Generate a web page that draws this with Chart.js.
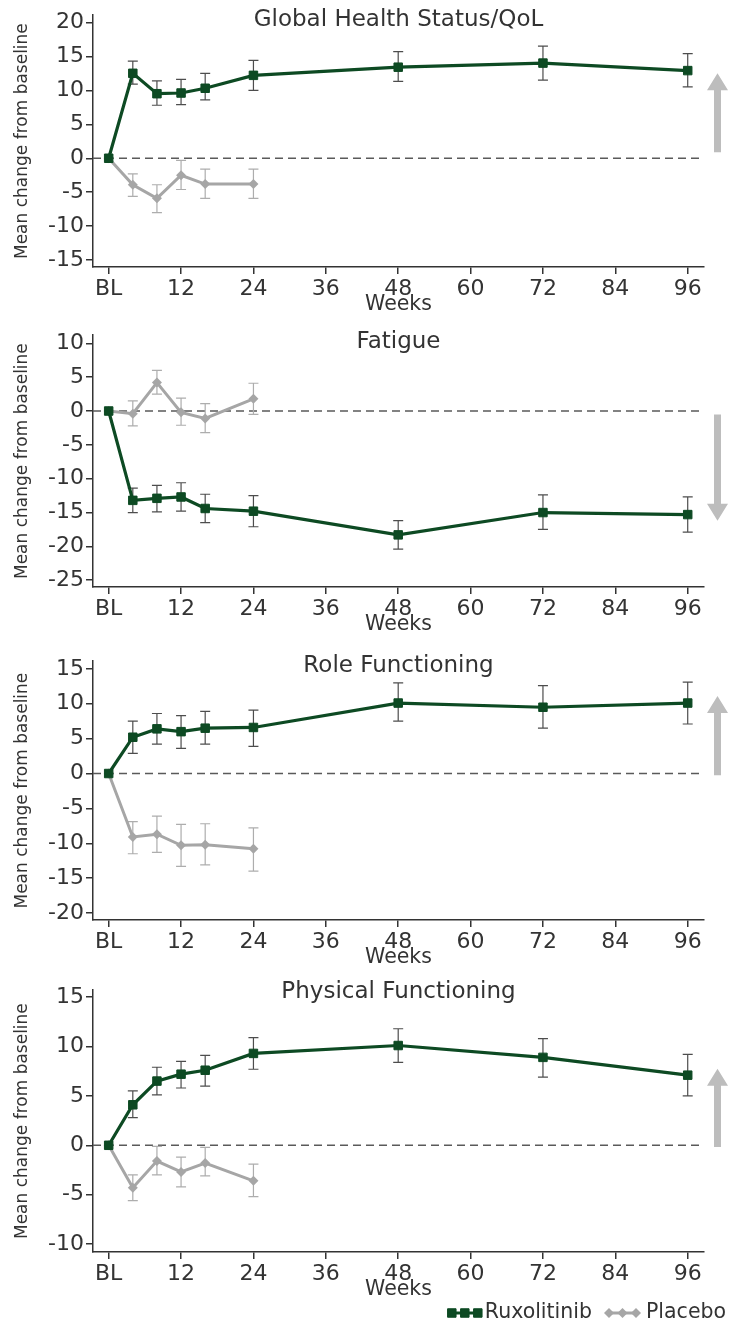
<!DOCTYPE html>
<html>
<head>
<meta charset="utf-8">
<title>Mean change from baseline</title>
<script src="https://cdn.jsdelivr.net/npm/chart.js@4.4.1/dist/chart.umd.min.js"></script>
<style>
    html, body { margin: 0; padding: 0; background: #ffffff; }
    #wrap { position: relative; width: 729px; height: 1325px; overflow: hidden; }
    #wrap canvas { position: absolute; left: 0; }
</style>
</head>
<body>
<div id="wrap">
    <canvas id="chart_ghs" width="729" height="317" style="top:0px"></canvas>
    <canvas id="chart_fatigue" width="729" height="317" style="top:320px"></canvas>
    <canvas id="chart_role" width="729" height="324" style="top:646px"></canvas>
    <canvas id="chart_phys" width="729" height="349" style="top:975px"></canvas>
</div>
<script>
// ---- data ----
var weeksRux = [0, 4, 8, 12, 16, 24, 48, 72, 96];
var weeksPbo = [0, 4, 8, 12, 16, 24];
var xTicks = [0, 12, 24, 36, 48, 60, 72, 84, 96];
var xTickLabels = ['BL', '12', '24', '36', '48', '60', '72', '84', '96'];

var panelTitles = ['Global Health Status/QoL', 'Fatigue', 'Role Functioning', 'Physical Functioning'];

// Global Health Status/QoL
var ghsRux = [0, 12.5, 9.5, 9.6, 10.3, 12.2, 13.4, 14.0, 12.9];
var ghsRuxLo = [null, 10.9, 7.8, 7.9, 8.6, 10.0, 11.3, 11.5, 10.5];
var ghsRuxHi = [null, 14.3, 11.4, 11.6, 12.5, 14.4, 15.7, 16.5, 15.4];
var ghsPbo = [0, -3.9, -5.9, -2.5, -3.8, -3.8];
var ghsPboLo = [null, -5.6, -8.0, -4.6, -5.9, -5.9];
var ghsPboHi = [null, -2.3, -3.9, -0.3, -1.6, -1.6];
var ghsYTicks = [-15, -10, -5, 0, 5, 10, 15, 20];

// Fatigue
var fatRux = [0, -13.2, -12.9, -12.7, -14.4, -14.8, -18.3, -15.0, -15.3];
var fatRuxLo = [null, -15.0, -14.9, -14.8, -16.5, -17.1, -20.4, -17.5, -17.9];
var fatRuxHi = [null, -11.4, -11.0, -10.6, -12.3, -12.5, -16.2, -12.4, -12.7];
var fatPbo = [0, -0.4, 4.2, -0.2, -1.1, 1.8];
var fatPboLo = [null, -2.2, 2.5, -2.1, -3.2, -0.5];
var fatPboHi = [null, 1.5, 6.0, 1.9, 1.1, 4.1];
var fatYTicks = [-25, -20, -15, -10, -5, 0, 5, 10];

// Role Functioning
var roleRux = [0, 5.2, 6.4, 6.0, 6.5, 6.6, 10.1, 9.5, 10.1];
var roleRuxLo = [null, 2.9, 4.2, 3.6, 4.2, 3.9, 7.5, 6.5, 7.1];
var roleRuxHi = [null, 7.5, 8.6, 8.3, 8.9, 9.1, 13.0, 12.6, 13.1];
var rolePbo = [0, -9.1, -8.7, -10.3, -10.2, -10.8];
var rolePboLo = [null, -11.5, -11.3, -13.3, -13.1, -14.0];
var rolePboHi = [null, -6.9, -6.1, -7.3, -7.2, -7.8];
var roleYTicks = [-20, -15, -10, -5, 0, 5, 10, 15];

// Physical Functioning
var physRux = [0, 4.1, 6.5, 7.2, 7.6, 9.3, 10.1, 8.9, 7.1];
var physRuxLo = [null, 2.8, 5.1, 5.8, 6.0, 7.7, 8.4, 6.9, 5.0];
var physRuxHi = [null, 5.5, 7.9, 8.5, 9.1, 10.9, 11.8, 10.8, 9.2];
var physPbo = [0, -4.3, -1.6, -2.7, -1.8, -3.6];
var physPboLo = [null, -5.6, -3.0, -4.2, -3.1, -5.2];
var physPboHi = [null, -3.0, -0.1, -1.2, -0.2, -1.9];
var physYTicks = [-10, -5, 0, 5, 10, 15];

// ---- styles ----
var clrRux = '#0d4a23';
var clrPbo = '#a6a6a6';
var clrText = '#333333';

Chart.defaults.font.family = '"DejaVu Sans", sans-serif';
Chart.defaults.color = clrText;

var DrawPanel = function (canvasId, cfg) {

    // dashed zero line, error bars, panel title, direction arrow, legend
    const panelDecor = {
        id: 'panelDecor',
        beforeDatasetsDraw: function (chart) {
            let ctx = chart.ctx;
            let area = chart.chartArea;
            let xs = chart.scales.x;
            let ys = chart.scales.y;
            let y0 = ys.getPixelForValue(0);

            ctx.save();
            ctx.strokeStyle = '#5a5a5a';
            ctx.lineWidth = 1.5;
            ctx.setLineDash([8, 5]);
            ctx.beginPath();
            ctx.moveTo(area.left, y0);
            ctx.lineTo(area.right - 3, y0);
            ctx.stroke();
            ctx.setLineDash([]);

            for (let ds of chart.data.datasets) {
                ctx.strokeStyle = ds.errColor;
                ctx.lineWidth = 1.2;
                for (let j = 0; j < ds.data.length; j++) {
                    if (ds.errLo[j] == null) continue;
                    let px = xs.getPixelForValue(ds.data[j].x);
                    let pLo = ys.getPixelForValue(ds.errLo[j]);
                    let pHi = ys.getPixelForValue(ds.errHi[j]);
                    ctx.beginPath();
                    ctx.moveTo(px, pLo); ctx.lineTo(px, pHi);
                    ctx.moveTo(px - 5, pLo); ctx.lineTo(px + 5, pLo);
                    ctx.moveTo(px - 5, pHi); ctx.lineTo(px + 5, pHi);
                    ctx.stroke();
                }
            }
            ctx.restore();
        },
        afterDraw: function (chart) {
            let ctx = chart.ctx;
            let area = chart.chartArea;
            let ys = chart.scales.y;

            ctx.save();
            // panel title sits inside the plot
            ctx.fillStyle = clrText;
            ctx.font = '23px "DejaVu Sans"';
            ctx.textAlign = 'center';
            ctx.textBaseline = 'middle';
            ctx.fillText(cfg.title, (area.left + area.right) / 2, area.top + cfg.titleOffset);

            // grey arrow (direction of improvement)
            let ax = area.right + 13.5;
            let yFrom = ys.getPixelForValue(cfg.arrow[0]);
            let yTip = ys.getPixelForValue(cfg.arrow[1]);
            let dir = yTip < yFrom ? 1 : -1;
            let yBase = yTip + dir * 17;
            ctx.fillStyle = '#bdbdbd';
            ctx.beginPath();
            ctx.moveTo(ax - 3.5, yFrom);
            ctx.lineTo(ax - 3.5, yBase);
            ctx.lineTo(ax - 10.5, yBase);
            ctx.lineTo(ax, yTip);
            ctx.lineTo(ax + 10.5, yBase);
            ctx.lineTo(ax + 3.5, yBase);
            ctx.lineTo(ax + 3.5, yFrom);
            ctx.closePath();
            ctx.fill();

            if (cfg.legend) {
                let ly = chart.height - 11;
                ctx.font = '20.5px "DejaVu Sans"';
                ctx.textAlign = 'left';
                ctx.fillStyle = clrText;
                ctx.fillText('Placebo', 646, ly);
                let wRux = ctx.measureText('Ruxolitinib').width;
                let xRux = 592 - wRux;
                ctx.fillText('Ruxolitinib', xRux, ly);

                // placebo key
                ctx.strokeStyle = clrPbo;
                ctx.fillStyle = clrPbo;
                ctx.lineWidth = 3;
                ctx.beginPath(); ctx.moveTo(609, ly); ctx.lineTo(636, ly); ctx.stroke();
                for (let cx of [609, 622.5, 636]) {
                    Chart.helpers.drawPoint(ctx, { pointStyle: 'rectRot', radius: 5, borderWidth: 0, rotation: 0 }, cx, ly);
                }
                // ruxolitinib key
                ctx.strokeStyle = clrRux;
                ctx.fillStyle = clrRux;
                ctx.beginPath(); ctx.moveTo(xRux - 33, ly); ctx.lineTo(xRux - 7, ly); ctx.stroke();
                ctx.lineWidth = 1;
                for (let cx of [xRux - 33, xRux - 20, xRux - 7]) {
                    Chart.helpers.drawPoint(ctx, { pointStyle: 'rect', radius: 6, borderWidth: 1, rotation: 0 }, cx, ly);
                }
            }
            ctx.restore();
        }
    };

    let ctx = document.getElementById(canvasId).getContext('2d');

    let objDatasets = [
        {
            label: 'Ruxolitinib',
            data: weeksRux.map((w, i) => ({ x: w, y: cfg.rux[i] })),
            borderColor: clrRux,
            backgroundColor: clrRux,
            borderWidth: 3.2,
            pointStyle: 'rect',
            pointRadius: 6,
            pointBorderWidth: 1,
            pointBackgroundColor: clrRux,
            pointBorderColor: clrRux,
            errLo: cfg.ruxLo,
            errHi: cfg.ruxHi,
            errColor: '#4d4d4d'
        },
        {
            label: 'Placebo',
            data: weeksPbo.map((w, i) => ({ x: w, y: cfg.pbo[i] })),
            borderColor: clrPbo,
            backgroundColor: clrPbo,
            borderWidth: 3,
            pointStyle: 'rectRot',
            pointRadius: 5,
            pointBorderWidth: 0,
            pointBackgroundColor: clrPbo,
            errLo: cfg.pboLo,
            errHi: cfg.pboHi,
            errColor: '#adadad'
        }
    ];

    return new Chart(ctx, {
        type: 'line',
        data: { datasets: objDatasets },
        plugins: [panelDecor],
        options: {
            responsive: false,
            animation: false,
            events: [],
            layout: { padding: { top: 15, left: 0, right: 25, bottom: cfg.bottomPad } },
            plugins: {
                legend: { display: false },
                tooltip: { enabled: false }
            },
            scales: {
                x: {
                    type: 'linear',
                    min: -2.6,
                    max: 98.7,
                    afterBuildTicks: function (scale) { scale.ticks = xTicks.map(v => ({ value: v })); },
                    afterFit: function (scale) { scale.height = 50; },
                    ticks: {
                        callback: function (v, idx) { return xTickLabels[idx]; },
                        font: { size: 22 },
                        color: clrText,
                        padding: 2,
                        maxRotation: 0,
                        autoSkip: false
                    },
                    grid: { drawOnChartArea: false, drawTicks: true, tickLength: 7, color: '#333', lineWidth: 1.5 },
                    border: { display: true, color: '#333', width: 1.5 },
                    title: { display: true, text: 'Weeks', font: { size: 20.5 }, color: clrText, padding: { top: 0, bottom: 0 } }
                },
                y: {
                    min: cfg.yMin,
                    max: cfg.yMax,
                    afterBuildTicks: function (scale) { scale.ticks = cfg.yTicks.map(v => ({ value: v })); },
                    afterFit: function (scale) { scale.width = 93; },
                    ticks: { font: { size: 22 }, color: clrText, padding: 2 },
                    grid: { drawOnChartArea: false, drawTicks: true, tickLength: 7, color: '#333', lineWidth: 1.5 },
                    border: { display: true, color: '#333', width: 1.5 },
                    title: { display: true, text: 'Mean change from baseline', font: { size: 17 }, color: clrText, padding: { top: 12, bottom: 0 } }
                }
            }
        }
    });
}

DrawPanel('chart_ghs', {
    title: panelTitles[0], titleOffset: 5,
    rux: ghsRux, ruxLo: ghsRuxLo, ruxHi: ghsRuxHi,
    pbo: ghsPbo, pboLo: ghsPboLo, pboHi: ghsPboHi,
    yMin: -16, yMax: 21.05, yTicks: ghsYTicks,
    arrow: [0.9, 12.5], bottomPad: 0, legend: false
});

DrawPanel('chart_fatigue', {
    title: panelTitles[1], titleOffset: 7,
    rux: fatRux, ruxLo: fatRuxLo, ruxHi: fatRuxHi,
    pbo: fatPbo, pboLo: fatPboLo, pboHi: fatPboHi,
    yMin: -26, yMax: 11.2, yTicks: fatYTicks,
    arrow: [-0.5, -16.2], bottomPad: 0, legend: false
});

DrawPanel('chart_role', {
    title: panelTitles[2], titleOffset: 5,
    rux: roleRux, ruxLo: roleRuxLo, ruxHi: roleRuxHi,
    pbo: rolePbo, pboLo: rolePboLo, pboHi: rolePboHi,
    yMin: -21, yMax: 16.1, yTicks: roleYTicks,
    arrow: [-0.25, 11.1], bottomPad: 0, legend: false
});

DrawPanel('chart_phys', {
    title: panelTitles[3], titleOffset: 2,
    rux: physRux, ruxLo: physRuxLo, ruxHi: physRuxHi,
    pbo: physPbo, pboLo: physPboLo, pboHi: physPboHi,
    yMin: -10.8, yMax: 15.7, yTicks: physYTicks,
    arrow: [-0.17, 7.75], bottomPad: 22, legend: true
});
</script>
</body>
</html>
